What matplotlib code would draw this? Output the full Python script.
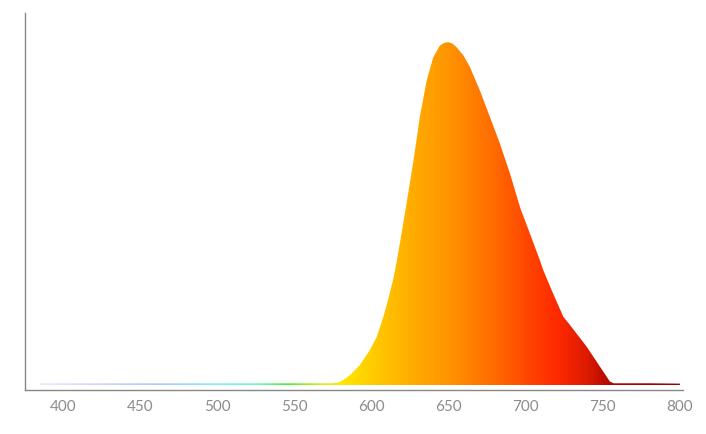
import numpy as np
import matplotlib
matplotlib.use("Agg")
import matplotlib.pyplot as plt
from matplotlib.colors import LinearSegmentedColormap
from matplotlib.patches import Polygon

# spectrum (wavelength nm, relative intensity)
wavelength = [385, 420, 460, 500, 540, 575, 578.5, 582, 586.1, 592.5, 599.0, 603.4,
              607.7, 610.9, 614.2, 616.4, 618.5, 622.8, 627.1, 631.4, 635.8, 640.1,
              644.4, 647.2, 649.8, 652.5, 655.2, 659.5, 663.9, 670.3, 676.8, 683.3,
              689.8, 696.3, 702.8, 709.2, 711.4, 716.8, 724.4, 728.7, 739.5, 754.6,
              757, 780, 800]
intensity = [0.005, 0.005, 0.005, 0.005, 0.005, 0.005, 0.007, 0.015, 0.029, 0.058,
             0.102, 0.140, 0.198, 0.250, 0.310, 0.360, 0.415, 0.530, 0.650, 0.782,
             0.888, 0.956, 0.990, 0.998, 1.0, 0.996, 0.985, 0.962, 0.927, 0.859,
             0.782, 0.704, 0.617, 0.519, 0.441, 0.364, 0.335, 0.277, 0.199, 0.175,
             0.112, 0.010, 0.005, 0.005, 0.004]
tick_values = [400, 450, 500, 550, 600, 650, 700, 750, 800]

# colour along the wavelength axis
stops = [(385, "#ece6ff"), (430, "#c9d2ff"), (460, "#aecbff"), (500, "#80eeff"),
         (525, "#70f8c0"), (545, "#50e840"), (565, "#c8f020"), (580, "#ffe800"),
         (600, "#ffcc00"), (630, "#ffa800"), (650, "#ff9400"), (680, "#ff6a00"),
         (700, "#ff4800"), (720, "#ff2a00"), (740, "#dd1a00"), (752, "#b80c00"),
         (760, "#b00000"), (800, "#960000")]
lo, hi = stops[0][0], stops[-1][0]
cmap = LinearSegmentedColormap.from_list(
    "spec", [((w - lo) / (hi - lo), c) for w, c in stops])

fig = plt.figure(figsize=(7.06, 4.34), dpi=100)
ax = fig.add_axes([25 / 706, 44 / 434, 658 / 706, 377 / 434])

ax.set_xlim(375.4, 802)
ax.set_ylim(-0.0146, 1.085)

grad = np.linspace(0, 1, 800).reshape(1, -1)
img = ax.imshow(grad, cmap=cmap, aspect="auto", extent=[lo, hi, 0, 1.0],
                interpolation="bilinear", zorder=2)
verts = [(wavelength[0], 0)] + list(zip(wavelength, intensity)) + [(wavelength[-1], 0)]
clip = Polygon(verts, closed=True, facecolor="none", edgecolor="none",
               transform=ax.transData)
ax.add_patch(clip)
img.set_clip_path(clip)

ax.spines["top"].set_visible(False)
ax.spines["right"].set_visible(False)
for s in ["left", "bottom"]:
    ax.spines[s].set_color("#888888")
    ax.spines[s].set_linewidth(1.0)

ax.set_yticks([])
ax.set_xticks(tick_values)
ax.tick_params(axis="x", length=0, pad=7, colors="#8c8c8c", labelsize=11)
for lab in ax.get_xticklabels():
    lab.set_family(["Lato", "DejaVu Sans"])

fig.savefig("out.png", dpi=100)
